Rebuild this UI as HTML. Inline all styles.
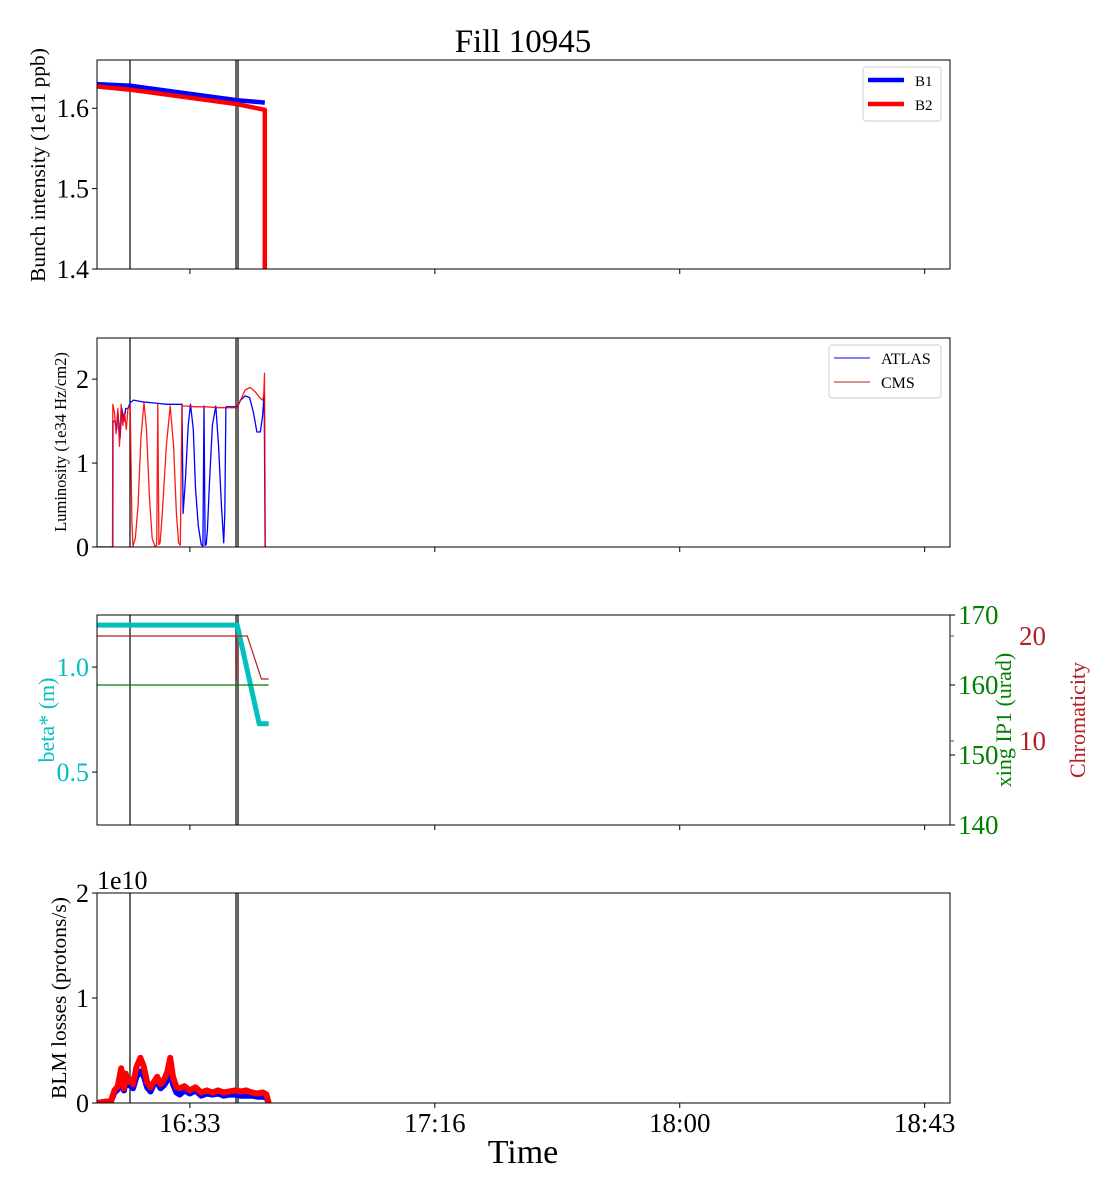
<!DOCTYPE html>
<html><head><meta charset="utf-8">
<style>
html,body{margin:0;padding:0;background:#fff;}
svg{display:block;font-family:"Liberation Serif",serif;}
</style></head>
<body>
<svg id="chart" width="1120" height="1200" viewBox="0 0 1120 1200" xmlns="http://www.w3.org/2000/svg">
<text x="523" y="52" font-size="33" text-anchor="middle">Fill 10945</text>
</svg>
<script>
// Time in minutes since 16:00
const xTickVals = [33, 76.5, 120, 163.5];
const xTickLabels = ["16:33", "17:16", "18:00", "18:43"];
const markerBlack = 22.36;
const markerGray = 41.37;

// Panel 1: bunch intensity
const intT = [16.5, 22.4, 41.4, 46.3];
const intB1 = [1.630, 1.628, 1.610, 1.607];
const intB2 = [1.627, 1.623, 1.605, 1.598];
const intB2DropT = 46.3;
const intTicks = [1.4, 1.5, 1.6];

// Panel 2: luminosity
const atlasT = [16.5,19.3,19.35,19.7,20.0,20.2,20.6,20.9,21.3,21.6,22.0,22.4,23.0,24.5,26,27.5,29,30.5,31.6,31.8,32.2,32.7,33.1,33.6,34.0,34.5,35.0,35.3,35.5,35.7,35.9,36.1,36.5,37.0,37.6,38.1,38.6,39.0,39.2,39.4,41.4,42.0,42.8,43.6,44.3,44.9,45.5,45.9,46.2,46.35,46.5];
const atlasV = [0,0,1.5,1.5,1.4,1.6,1.3,1.65,1.5,1.65,1.65,1.72,1.75,1.73,1.72,1.71,1.70,1.70,1.70,0.4,0.8,1.45,1.70,1.4,0.7,0.25,0.03,0.01,1.68,0.02,0.03,0.2,0.8,1.45,1.68,1.2,0.5,0.05,0.4,1.67,1.67,1.75,1.8,1.78,1.6,1.37,1.37,1.55,1.82,0,0];
const cmsT = [16.5,19.25,19.3,19.6,19.9,20.2,20.5,20.8,21.1,21.4,21.7,22.0,22.4,22.7,22.9,23.3,23.8,24.3,24.85,25.3,25.8,26.3,26.8,27.1,27.3,27.5,27.7,28.1,28.8,29.5,30.1,30.6,31.0,31.3,31.6,32.2,34.0,36.0,38.0,40.0,41.4,42.0,42.8,43.7,44.6,45.4,45.9,46.1,46.25,46.4,46.5];
const cmsV = [0,0,1.7,1.6,1.35,1.65,1.2,1.7,1.45,1.6,1.4,1.65,1.68,0.3,0.01,0.1,0.5,1.3,1.72,1.4,0.6,0.1,0.01,0.02,1.7,0.03,0.05,0.4,1.2,1.68,1.2,0.4,0.05,0.02,1.68,1.68,1.67,1.67,1.66,1.66,1.66,1.75,1.87,1.9,1.85,1.78,1.75,1.8,2.07,0,0];
const lumTicks = [0, 1, 2];

// Panel 3: beta*, xing, chromaticity
const betaT = [16.5, 41.4, 45.3, 47.0];
const betaV = [1.2, 1.2, 0.73, 0.73];
const xingT = [16.5, 47.0];
const xingV = [160, 160];
const chromaT = [16.5, 41.2, 41.25, 41.3, 43.2, 45.7, 47.0];
const chromaV = [20, 20, 15.8, 20, 20, 15.9, 15.9];
const betaTicks = [0.5, 1.0];
const xingTicks = [140, 150, 160, 170];
const chromaTicks = [10, 20];

// Panel 4: BLM losses (1e10 protons/s)
const blmT = [16.5,19.0,19.6,20.2,20.8,21.3,21.6,21.9,22.4,22.9,23.5,24.2,24.8,25.4,26.0,26.6,27.2,27.8,28.4,29.0,29.5,30.0,30.6,31.2,32.0,33.0,34.0,35.0,36.0,37.0,38.0,39.0,40.0,41.0,42.0,43.0,44.0,45.0,46.0,46.6,47.0];
const blmB2 = [0,0.02,0.12,0.16,0.33,0.14,0.28,0.2,0.22,0.18,0.34,0.43,0.35,0.2,0.15,0.2,0.25,0.18,0.22,0.3,0.43,0.25,0.15,0.14,0.16,0.12,0.15,0.1,0.12,0.1,0.12,0.1,0.11,0.12,0.11,0.12,0.1,0.09,0.1,0.08,0];
const blmB1 = [0,0.02,0.1,0.13,0.2,0.12,0.22,0.17,0.17,0.14,0.25,0.3,0.26,0.15,0.11,0.18,0.2,0.14,0.17,0.22,0.32,0.18,0.1,0.08,0.12,0.09,0.12,0.07,0.09,0.08,0.09,0.07,0.08,0.08,0.07,0.07,0.07,0.06,0.06,0.05,0];
const blmTicks = [0, 1, 2];

const NS = "http://www.w3.org/2000/svg";
const svg = document.getElementById('chart');
const L = 97, R = 950, T0 = 16.5, T1 = 168;
const xs = t => L + (t - T0) / (T1 - T0) * (R - L);
function mk(tag, attrs, parent) {
  const e = document.createElementNS(NS, tag);
  for (const k in attrs) e.setAttribute(k, attrs[k]);
  (parent || svg).appendChild(e);
  return e;
}
function lin(d0, d1, p0, p1) { return v => p0 + (v - d0) / (d1 - d0) * (p1 - p0); }
function path(ts, vs, ys) {
  return ts.map((t, i) => (i ? 'L' : 'M') + xs(t).toFixed(1) + ',' + ys(vs[i]).toFixed(1)).join(' ');
}
function line(ts, vs, ys, color, w, name, g) {
  const p = mk('path', {d: path(ts, vs, ys), fill: 'none', stroke: color, 'stroke-width': w, 'stroke-linejoin': 'round'}, g);
  
  
  return p;
}
function txt(s, x, y, size, attrs, name) {
  const e = mk('text', Object.assign({x: x, y: y, 'font-size': size}, attrs || {}));
  e.textContent = s;
  
  
  return e;
}
function panel(top, bot, idx, showLabels) {
  const g = mk('g', {});
  
  
  const clipId = 'clip' + idx;
  const cp = mk('clipPath', {id: clipId}, g);
  mk('rect', {x: L, y: top, width: R - L, height: bot - top}, cp);
  const inner = mk('g', {'clip-path': 'url(#' + clipId + ')'}, g);
  xTickVals.forEach((v, i) => {
    mk('line', {x1: xs(v), x2: xs(v), y1: bot, y2: bot + 5, stroke: '#000', 'stroke-width': 1}, g);
    if (showLabels) txt(xTickLabels[i], xs(v), bot + 29, 27, {'text-anchor': 'middle'}, 'x-tick-label');
  });
  const mb = mk('line', {x1: xs(markerBlack), x2: xs(markerBlack), y1: top, y2: bot, stroke: '#000', 'stroke-width': 1.2}, inner);
  
  
  return {g, inner, top, bot, grayLine: () => {
    const m = mk('line', {x1: xs(markerGray), x2: xs(markerGray), y1: top, y2: bot, stroke: '#666', 'stroke-width': 4}, inner);
    
    
  }, frame: () => {
    const f = mk('rect', {x: L, y: top, width: R - L, height: bot - top, fill: 'none', stroke: '#000', 'stroke-width': 1}, g);
    
    
  }};
}
function yTicks(ticks, ys, fmt, x, color, size) {
  ticks.forEach(v => {
    mk('line', {x1: x - 5, x2: x, y1: ys(v), y2: ys(v), stroke: '#000'});
    txt(fmt(v), x - 8, ys(v) + 9, size || 26, {'text-anchor': 'end', fill: color || '#000'}, 'y-tick-label');
  });
}

// Panel 1
{
  const p = panel(60, 269, 1, false);
  const ys = lin(1.4, 1.66, 269, 60);
  p.grayLine();
  line(intT, intB1, ys, '#0000ff', 4.5, 'series-b1', p.inner);
  line(intT.concat([intB2DropT]), intB2.concat([1.3]), ys, '#ff0000', 4.5, 'series-b2', p.inner);
  p.frame();
  yTicks(intTicks, ys, v => v.toFixed(1), L);
  txt('Bunch intensity (1e11 ppb)', 0, 0, 21.5, {transform: 'translate(45,165) rotate(-90)', 'text-anchor': 'middle'}, 'y-axis-title');
  const lg = mk('g', {});  
  mk('rect', {x: 863, y: 67, width: 78, height: 54, rx: 3, fill: '#fff', stroke: '#ccc'}, lg);
  mk('line', {x1: 868, x2: 904, y1: 80, y2: 80, stroke: '#0000ff', 'stroke-width': 4.5}, lg);
  mk('line', {x1: 868, x2: 904, y1: 104, y2: 104, stroke: '#ff0000', 'stroke-width': 4.5}, lg);
  txt('B1', 915, 86, 15, {}, 'legend-label-b1');
  txt('B2', 915, 110, 15, {}, 'legend-label-b2');
}
// Panel 2
{
  const p = panel(338, 547, 2, false);
  const ys = lin(0, 2.49, 547, 338);
  p.grayLine();
  line(atlasT, atlasV, ys, '#0000ff', 1.3, 'series-atlas', p.inner);
  line(cmsT, cmsV, ys, '#ff0000', 1.3, 'series-cms', p.inner).setAttribute('opacity', '0.9');
  p.frame();
  yTicks(lumTicks, ys, v => String(v), L);
  txt('Luminosity (1e34 Hz/cm2)', 0, 0, 16.5, {transform: 'translate(66,442) rotate(-90)', 'text-anchor': 'middle'}, 'y-axis-title');
  const lg = mk('g', {});  
  mk('rect', {x: 829, y: 345, width: 112, height: 53, rx: 3, fill: '#fff', stroke: '#ccc'}, lg);
  mk('line', {x1: 834, x2: 870, y1: 358, y2: 358, stroke: '#0000ff', 'stroke-width': 1}, lg);
  mk('line', {x1: 834, x2: 870, y1: 382, y2: 382, stroke: '#b22222', 'stroke-width': 1}, lg);
  txt('ATLAS', 881, 364, 16, {}, 'legend-label-atlas');
  txt('CMS', 881, 388, 16, {}, 'legend-label-cms');
}
// Panel 3
{
  const p = panel(615, 825, 3, false);
  const yb = lin(0.248, 1.248, 825, 615);
  const yx = lin(140, 170, 825, 615);
  const yc = lin(2, 22, 825, 615);
  p.grayLine();
  line(betaT, betaV, yb, '#00c0c0', 5, 'series-beta', p.inner);
  line(xingT, xingV, yx, '#008000', 1.2, 'series-xing', p.inner);
  line(chromaT, chromaV, yc, '#b22222', 1.2, 'series-chromaticity', p.inner);
  p.frame();
  yTicks(betaTicks, yb, v => v.toFixed(1), L, '#00c0c0');
  xingTicks.forEach(v => {
    mk('line', {x1: R, x2: R + 5, y1: yx(v), y2: yx(v), stroke: '#000'});
    txt(String(v), R + 8, yx(v) + 9, 27, {fill: '#008000'}, 'xing-tick-label');
  });
  chromaTicks.forEach(v => {
    mk('line', {x1: R, x2: R + 4, y1: yc(v), y2: yc(v), stroke: '#b22222'});
    txt(String(v), 1019, yc(v) + 9, 27, {fill: '#b22222'}, 'chroma-tick-label');
  });
  txt('beta* (m)', 0, 0, 22, {transform: 'translate(54,720) rotate(-90)', 'text-anchor': 'middle', fill: '#00c0c0'}, 'y-axis-title-beta');
  txt('xing IP1 (urad)', 0, 0, 22, {transform: 'translate(1011,720) rotate(-90)', 'text-anchor': 'middle', fill: '#008000'}, 'y-axis-title-xing');
  txt('Chromaticity', 0, 0, 22, {transform: 'translate(1085,720) rotate(-90)', 'text-anchor': 'middle', fill: '#b22222'}, 'y-axis-title-chromaticity');
}
// Panel 4
{
  const p = panel(893, 1103, 4, true);
  const ys = lin(0, 2, 1103, 893);
  p.grayLine();
  line(blmT, blmB1, ys, '#0000ff', 6, 'series-blm-b1', p.inner);
  line(blmT, blmB2, ys, '#ff0000', 6, 'series-blm-b2', p.inner);
  p.frame();
  yTicks(blmTicks, ys, v => String(v), L);
  txt('1e10', 97, 889, 26, {}, 'y-offset-text');
  txt('BLM losses (protons/s)', 0, 0, 21.5, {transform: 'translate(66,998) rotate(-90)', 'text-anchor': 'middle'}, 'y-axis-title');
  txt('Time', 523, 1163, 34, {'text-anchor': 'middle'}, 'x-axis-title');
}
</script>
</body></html>
